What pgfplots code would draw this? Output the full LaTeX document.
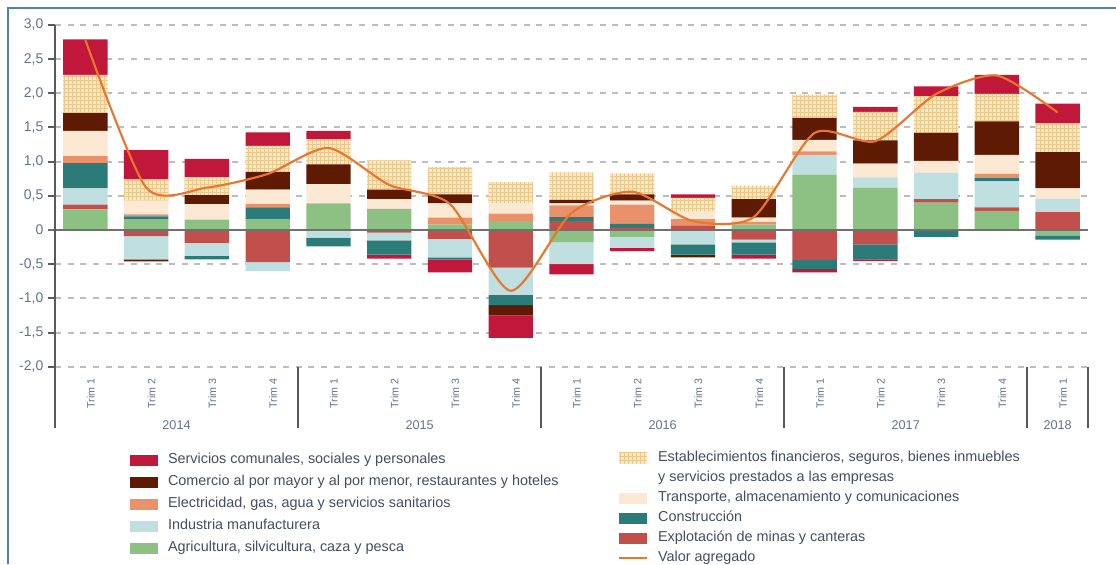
\documentclass[border=0pt]{standalone}
\usepackage{fontspec}
\setmainfont{Liberation Sans}
\usepackage{pgfplots}
\pgfplotsset{compat=1.18}
\usepackage{pgfplotstable}
\usetikzlibrary{patterns}

\definecolor{cSer}{HTML}{C0173B}
\definecolor{cCom}{HTML}{5E1A02}
\definecolor{cEle}{HTML}{E8916B}
\definecolor{cInd}{HTML}{BFDFE0}
\definecolor{cAgr}{HTML}{8CC183}
\definecolor{cFin}{HTML}{F8E8C8}
\definecolor{cFinL}{HTML}{EBC98C}
\definecolor{cTra}{HTML}{FBE9D3}
\definecolor{cCon}{HTML}{2B7C79}
\definecolor{cMin}{HTML}{C1504C}
\definecolor{cVal}{HTML}{E8762D}
\definecolor{cTick}{HTML}{66718C}
\definecolor{cLeg}{HTML}{454D63}
\definecolor{cAx}{HTML}{5A5A5A}
\definecolor{cZero}{HTML}{707070}
\definecolor{cGrid}{HTML}{BDBDBD}
\definecolor{cBorder}{HTML}{4F81BD}

% positive contributions
\pgfplotstableread{
x agr min ind con ele tra com fin ser
0 0.30 0.07 0.24 0.37 0.10 0.37 0.26 0.56 0.52
1 0.16 0 0 0.04 0.03 0.20 0 0.31 0.43
2 0.15 0 0 0 0 0.23 0.13 0.26 0.27
3 0.16 0 0 0.17 0.05 0.21 0.26 0.38 0.20
4 0.39 0 0 0 0 0.28 0.29 0.37 0.12
5 0.31 0 0 0 0 0.14 0.14 0.43 0
6 0.08 0 0 0 0.10 0.21 0.13 0.40 0
7 0.13 0 0 0 0.11 0.15 0 0.31 0
8 0 0.13 0 0.06 0.17 0.03 0.05 0.40 0
9 0 0.03 0 0.06 0.28 0.06 0.09 0.31 0
10 0 0.06 0 0 0.10 0.11 0 0.20 0.05
11 0.08 0 0 0 0.04 0.06 0.27 0.20 0
12 0.81 0 0.29 0 0.05 0.17 0.32 0.34 0
13 0.62 0 0.15 0 0 0.20 0.34 0.42 0.07
14 0.40 0.05 0.39 0 0 0.17 0.41 0.54 0.14
15 0.28 0.05 0.38 0.05 0.06 0.28 0.49 0.40 0.28
16 0 0.26 0.20 0 0 0.15 0.53 0.42 0.29
}\postab

% negative contributions
\pgfplotstableread{
x agr min ind con ele tra com fin ser
0 0 0 0 0 0 0 0 0 0
1 0 -0.09 -0.34 0 0 0 -0.03 0 0
2 0 -0.19 -0.19 -0.05 0 0 0 0 0
3 0 -0.47 -0.13 0 0 0 0 0 0
4 0 0 -0.11 -0.13 0 0 0 0 0
5 0 -0.04 -0.11 -0.21 0 0 0 0 -0.06
6 0 -0.13 -0.27 -0.03 0 0 0 0 -0.19
7 0 -0.55 -0.40 -0.15 0 0 -0.15 0 -0.33
8 -0.18 0 -0.32 0 0 0 0 0 -0.15
9 -0.10 0 -0.16 0 0 0 0 0 -0.05
10 0 0 -0.21 -0.15 0 0 -0.04 0 0
11 0 -0.14 -0.04 -0.18 0 0 0 0 -0.06
12 0 -0.44 0 -0.13 0 0 0 0 -0.05
13 0 -0.21 0 -0.22 0 0 0 0 -0.02
14 0 0 0 -0.10 0 0 0 0 0
15 0 0 0 0 0 0 0 0 0
16 -0.08 0 0 -0.06 0 0 0 0 0
}\negtab

% valor agregado
\pgfplotstableread{
x val
0 2.78
1 0.62
2 0.62
3 0.82
4 1.20
5 0.66
6 0.38
7 -0.89
8 0.25
9 0.56
10 0.13
11 0.19
12 1.42
13 1.30
14 1.99
15 2.26
16 1.72
}\valtab

\pgfplotsset{
  base/.style={
    scale only axis, width=774.75pt, height=256.3pt,
    xmin=-0.5, xmax=16.5, ymin=-2, ymax=3,
    at={(41.25pt,147.98pt)}, anchor=south west, clip=false,
  },
  legbar/.style={draw=none, legend image code/.code={\path[##1] (0pt,-4.1pt) rectangle (21pt,4.1pt);}},
  legline/.style={legend image code/.code={\draw[##1] (0pt,0pt) -- (21pt,0pt);}},
  finsty/.style={fill=cFin, draw=none, postaction={pattern=grid, pattern color=cFinL}},
  legsty/.style={legend cell align=left,
    legend style={draw=none, fill=none, inner sep=0pt, outer sep=0pt,
      row sep=#1, column sep=7.5pt, font=\fontsize{10.8}{13}\selectfont, text=cLeg,
      nodes={inner sep=0pt, text height=8pt, text depth=2.5pt}, anchor=north west}},
}

\begin{document}
\begin{tikzpicture}[x=0.75pt, y=0.75pt]
\useasboundingbox (0,0) rectangle (1116,564);
\draw[cBorder, line width=1.5pt] (8,0) -- (8,556) -- (1116,556);

% axis 1: grid, ticks, positive bars
\begin{axis}[base, ybar stacked, bar width=0.73,
  axis line style={draw=none},
  ymajorgrids, grid style={cGrid, line width=1.5pt, dash pattern=on 4.5pt off 5pt},
  ytick={-2,-1.5,-1,-0.5,0,0.5,1,1.5,2,2.5,3},
  yticklabels={{-2,0},{-1,5},{-1,0},{-0,5},0,{0,5},{1,0},{1,5},{2,0},{2,5},{3,0}},
  tick align=outside, major tick length=5.25pt,
  ytick pos=left,
  ytick style={cAx, line width=1.5pt},
  yticklabel style={font=\fontsize{10.5}{12}\selectfont, text=cTick},
  xtick={0,...,16}, xtick style={draw=none},
  xticklabels={Trim 1,Trim 2,Trim 3,Trim 4,Trim 1,Trim 2,Trim 3,Trim 4,Trim 1,Trim 2,Trim 3,Trim 4,Trim 1,Trim 2,Trim 3,Trim 4,Trim 1},
  xticklabel style={rotate=90, anchor=east, font=\fontsize{8}{9}\selectfont, text=cTick, yshift=-4pt},
]
\addplot[fill=cAgr, draw=none] table[x=x,y=agr]{\postab};
\addplot[fill=cMin, draw=none] table[x=x,y=min]{\postab};
\addplot[fill=cInd, draw=none] table[x=x,y=ind]{\postab};
\addplot[fill=cCon, draw=none] table[x=x,y=con]{\postab};
\addplot[fill=cEle, draw=none] table[x=x,y=ele]{\postab};
\addplot[fill=cTra, draw=none] table[x=x,y=tra]{\postab};
\addplot[fill=cCom, draw=none] table[x=x,y=com]{\postab};
\addplot[finsty] table[x=x,y=fin]{\postab};
\addplot[fill=cSer, draw=none] table[x=x,y=ser]{\postab};
\end{axis}

% axis 2: negative bars + left legend column
\begin{axis}[base, ybar stacked, bar width=0.73, hide axis,
  legsty=6pt, legend style={at={(0.0726,-0.2534)}}]
\addplot[fill=cAgr, draw=none, forget plot] table[x=x,y=agr]{\negtab};
\addplot[fill=cMin, draw=none, forget plot] table[x=x,y=min]{\negtab};
\addplot[fill=cInd, draw=none, forget plot] table[x=x,y=ind]{\negtab};
\addplot[fill=cCon, draw=none, forget plot] table[x=x,y=con]{\negtab};
\addplot[fill=cEle, draw=none, forget plot] table[x=x,y=ele]{\negtab};
\addplot[fill=cTra, draw=none, forget plot] table[x=x,y=tra]{\negtab};
\addplot[fill=cCom, draw=none, forget plot] table[x=x,y=com]{\negtab};
\addplot[finsty, forget plot] table[x=x,y=fin]{\negtab};
\addplot[fill=cSer, draw=none, forget plot] table[x=x,y=ser]{\negtab};
\addlegendimage{legbar, fill=cSer}\addlegendentry{Servicios comunales, sociales y personales}
\addlegendimage{legbar, fill=cCom}\addlegendentry{Comercio al por mayor y al por menor, restaurantes y hoteles}
\addlegendimage{legbar, fill=cEle}\addlegendentry{Electricidad, gas, agua y servicios sanitarios}
\addlegendimage{legbar, fill=cInd}\addlegendentry{Industria manufacturera}
\addlegendimage{legbar, fill=cAgr}\addlegendentry{Agricultura, silvicultura, caza y pesca}
\end{axis}

% axis 3: decorations, line, right legend column
\begin{axis}[base, hide axis,
  legsty=4.45pt, legend style={at={(0.545,-0.2476)}}]
\draw[cZero, line width=1.8pt] ([xshift=-5.25pt]axis cs:-0.5,0) -- (axis cs:16.5,0);
\draw[cAx, line width=1.8pt] (axis cs:-0.5,3) -- ([yshift=-46pt]axis cs:-0.5,-2);
\pgfplotsinvokeforeach{3.5,7.5,11.5,15.5,16.5}{
  \draw[cAx, line width=1.8pt] (axis cs:#1,-2) -- ([yshift=-46pt]axis cs:#1,-2);
}
\node[font=\fontsize{9.5}{11}\selectfont, text=cTick] at ([yshift=-43.7pt]axis cs:1.5,-2) {2014};
\node[font=\fontsize{9.5}{11}\selectfont, text=cTick] at ([yshift=-43.7pt]axis cs:5.5,-2) {2015};
\node[font=\fontsize{9.5}{11}\selectfont, text=cTick] at ([yshift=-43.7pt]axis cs:9.5,-2) {2016};
\node[font=\fontsize{9.5}{11}\selectfont, text=cTick] at ([yshift=-43.7pt]axis cs:13.5,-2) {2017};
\node[font=\fontsize{9.5}{11}\selectfont, text=cTick] at ([yshift=-43.7pt]axis cs:16,-2) {2018};
\addlegendimage{legbar, finsty}\addlegendentry{Establecimientos financieros, seguros, bienes inmuebles}
\addlegendimage{empty legend}\addlegendentry{y servicios prestados a las empresas}
\addlegendimage{legbar, fill=cTra}\addlegendentry{Transporte, almacenamiento y comunicaciones}
\addlegendimage{legbar, fill=cCon}\addlegendentry{Construcción}
\addlegendimage{legbar, fill=cMin}\addlegendentry{Explotación de minas y canteras}
\addplot[cVal, line width=1.6pt, smooth, tension=0.42, legline] table[x=x,y=val]{\valtab};
\addlegendentry{Valor agregado}
\end{axis}
\end{tikzpicture}
\end{document}
